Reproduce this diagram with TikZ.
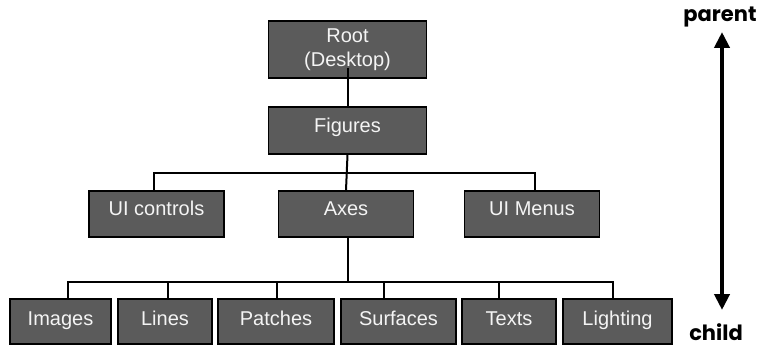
\documentclass[tikz,border=0pt]{standalone}
\usepackage{fontspec}
\setmainfont{Liberation Sans}
\newfontfamily\sidefont{Poppins}
\usetikzlibrary{arrows.meta}
\definecolor{boxgray}{HTML}{5B5B5B}
\definecolor{boxtext}{HTML}{F4F4F4}
\tikzset{
objbox/.style={draw=black, line width=1.5pt, fill=boxgray, text=boxtext, inner sep=0pt, font=\fontsize{20}{24}\selectfont},
toplevel/.style={objbox, minimum width=158pt, minimum height=57pt, align=center},
figlevel/.style={objbox, minimum width=158pt, minimum height=47pt, text height=14pt, text depth=9pt},
midlevel/.style={objbox, minimum width=135pt, minimum height=46pt, text height=14pt, text depth=11pt},
lowlevel/.style={objbox, minimum height=45pt, text height=14pt, text depth=7pt},
link/.style={draw=black, line width=2pt},
sidelabel/.style={font=\sidefont\bfseries\fontsize{21}{24}\selectfont, inner sep=1pt},
updown/.style={line width=4pt, {Triangle[width=15pt,length=16pt]}-{Triangle[width=15pt,length=16pt]}},
}
\begin{document}
\begin{tikzpicture}[x=1pt, y=-1pt]
				\useasboundingbox (0,0) rectangle (760,347);
				\coordinate (bar2) at (348,173);
				\coordinate (bar3) at (348,282);
				\coordinate (atop) at (722,32);
				\coordinate (abot) at (722,310);
				\node[toplevel] (root) at (347.5,49.5) {Root\\(Desktop)};
				\node[figlevel] (fig) at (347.5,130.5) {Figures};
				\node[midlevel] (uic) at (156.5,214) {UI controls};
				\node[midlevel] (axes) at (346,214) {Axes};
				\node[midlevel] (uim) at (532,214) {UI Menus};
				\node[lowlevel, minimum width=101pt] (img) at (60.5,321.5) {Images};
				\node[lowlevel, minimum width=94pt] (lin) at (165,321.5) {Lines};
				\node[lowlevel, minimum width=116pt] (pat) at (276,321.5) {Patches};
				\node[lowlevel, minimum width=115pt] (sur) at (398.5,321.5) {Surfaces};
				\node[lowlevel, minimum width=94pt] (txt) at (509,321.5) {Texts};
				\node[lowlevel, minimum width=109pt] (lig) at (617.5,321.5) {Lighting};
				\node[sidelabel] (par) at (720,17) {parent};
				\node[sidelabel] (chi) at (716,332) {child};
				\draw[link] ([yshift=11pt]root.south) -- (fig.north);
				\draw[link] (fig.south) -- (axes.north);
				\draw[link] ([xshift=-2.5pt]uic.north) |- (bar2) -| ([xshift=3pt]uim.north);
				\draw[link] ([xshift=2pt]axes.south) -- (bar3);
				\foreach \n/\dx in {img/7.5, lin/3, pat/1, sur/-14.5, txt/-10, lig/-4.5}
					\draw[link] ([xshift=\dx pt]\n.north) |- (bar3);
				\draw[updown] (atop) -- (abot);
			\end{tikzpicture}
\end{document}
